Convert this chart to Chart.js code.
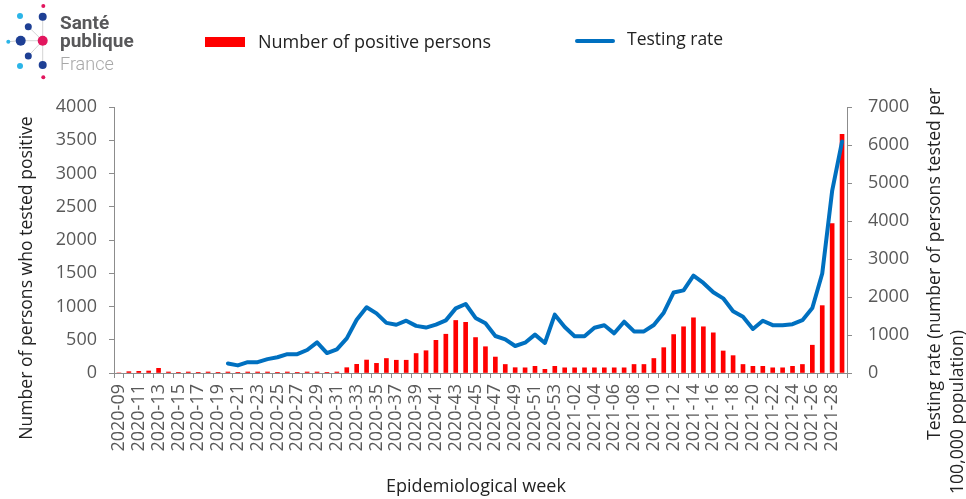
<!DOCTYPE html>
<html><head><meta charset="utf-8">
<script src="https://cdn.jsdelivr.net/npm/chart.js@4.4.1/dist/chart.umd.min.js"></script>
<style>
html,body{margin:0;padding:0;background:#fff;width:966px;height:499px;overflow:hidden}
#wrap{position:relative;width:966px;height:499px}
#c{position:absolute;left:0;top:0}
.t{position:absolute;white-space:nowrap;font-family:'Open Sans',sans-serif;color:#222;line-height:1}
#logo{position:absolute;left:0;top:0}
.lg{position:absolute;white-space:nowrap;font-family:Roboto,sans-serif;line-height:1}
</style></head><body>
<div id="wrap">
<canvas id="c" width="966" height="499"></canvas>
<svg id="logo" width="120" height="90" viewBox="0 0 120 90">
  <g stroke="#c8c8c8" stroke-width="0.8">
    <line x1="42.7" y1="40.7" x2="20.7" y2="40.7"/>
    <line x1="20.7" y1="40.7" x2="8.3" y2="41.7"/>
    <line x1="42.7" y1="40.7" x2="28.3" y2="26.7"/>
    <line x1="42.7" y1="40.7" x2="28.3" y2="56"/>
    <line x1="42.7" y1="40.7" x2="42.7" y2="16.7"/>
    <line x1="42.7" y1="40.7" x2="42.7" y2="65"/>
  </g>
  <circle cx="43.3" cy="6" r="2" fill="#e2165e"/>
  <circle cx="20" cy="16" r="3" fill="#2bb5e8"/>
  <circle cx="42.7" cy="16.7" r="4" fill="#1e3f94"/>
  <circle cx="28.3" cy="26.7" r="3.5" fill="#1e3f94"/>
  <circle cx="8.3" cy="41.7" r="2" fill="#2bb5e8"/>
  <circle cx="20.7" cy="40.7" r="5" fill="#1e3f94"/>
  <circle cx="42.7" cy="40.7" r="5" fill="#e2165e"/>
  <circle cx="28.3" cy="56" r="3.5" fill="#1e3f94"/>
  <circle cx="20" cy="66" r="3" fill="#2bb5e8"/>
  <circle cx="42.7" cy="65" r="4" fill="#1e3f94"/>
  <circle cx="43.3" cy="77.3" r="2" fill="#e2165e"/>
</svg>
<div class="lg" style="left:60px;top:13px;font-weight:700;font-size:19px;color:#58585a">Santé</div>
<div class="lg" style="left:60px;top:31px;font-weight:700;font-size:19px;color:#58585a">publique</div>
<div class="lg" style="left:60px;top:55px;font-weight:300;font-size:18px;color:#a8a8a8">France</div>

<div style="position:absolute;left:205px;top:37px;width:40px;height:10px;background:#ff0000"></div>
<div class="t" id="leg1" style="left:258px;top:32px;font-size:18px"></div>
<div style="position:absolute;left:575px;top:39px;width:40px;height:4px;background:#0070c0;border-radius:2px"></div>
<div class="t" id="leg2" style="left:627px;top:30px;font-size:17.5px"></div>
</div>
<script>
// ---- data ----
const weeks = [
 "2020-09","2020-10","2020-11","2020-12","2020-13","2020-14","2020-15","2020-16","2020-17","2020-18",
 "2020-19","2020-20","2020-21","2020-22","2020-23","2020-24","2020-25","2020-26","2020-27","2020-28",
 "2020-29","2020-30","2020-31","2020-32","2020-33","2020-34","2020-35","2020-36","2020-37","2020-38",
 "2020-39","2020-40","2020-41","2020-42","2020-43","2020-44","2020-45","2020-46","2020-47","2020-48",
 "2020-49","2020-50","2020-51","2020-52","2020-53",
 "2021-01","2021-02","2021-03","2021-04","2021-05","2021-06","2021-07","2021-08","2021-09","2021-10",
 "2021-11","2021-12","2021-13","2021-14","2021-15","2021-16","2021-17","2021-18","2021-19","2021-20",
 "2021-21","2021-22","2021-23","2021-24","2021-25","2021-26","2021-27","2021-28","2021-29"
];
const positives = [
 0,
 20,25,30,70,15,10,15,10,15,10,
 15,10,15,15,15,10,15,10,15,15,
 10,15,80,130,195,145,218,192,192,293,
 335,491,583,790,762,533,395,240,128,80,
 78,100,55,100,78,78,78,78,78,78,
 78,128,128,218,381,578,695,830,695,604,
 331,261,128,100,100,78,78,100,128,418,
 1013,2248,3590
];
const testingRate = [
 null,
 null,null,null,null,null,null,null,null,null,null,
 250,200,285,285,365,415,495,495,605,807,
 525,623,912,1400,1730,1570,1320,1270,1376,1240,
 1195,1275,1385,1700,1816,1450,1307,974,886,710,
 797,1010,790,1535,1210,965,965,1190,1255,1044,
 1350,1095,1095,1263,1587,2120,2175,2560,2370,2125,
 1965,1625,1482,1160,1376,1258,1258,1285,1390,1710,
 2620,4790,6090
];
const seriesNames = ["Number of positive persons","Testing rate"];
const leftTitle = "Number of persons who tested positive";
const rightTitle = ["Testing rate (number of persons tested per","100,000 population)"];
const xTitle = "Epidemiological week";

document.getElementById('leg1').textContent = seriesNames[0];
document.getElementById('leg2').textContent = seriesNames[1];

const AXIS = '#8c8c8c', TICK = '#595959', TXT = '#222';
const tickFont = {family:'Open Sans', size:18};

const titles = {
  id:'titles',
  afterDraw(chart){
    const ctx = chart.ctx;
    ctx.save();
    ctx.fillStyle = TXT;
    ctx.textBaseline = 'middle';
    ctx.font = '17.6px "Open Sans"';
    // left title
    ctx.save(); ctx.translate(27, 278); ctx.rotate(-Math.PI/2);
    ctx.textAlign = 'center'; ctx.fillText(leftTitle, 0, 0); ctx.restore();
    // right title
    ctx.save(); ctx.translate(935, 440); ctx.rotate(-Math.PI/2);
    ctx.textAlign = 'left'; ctx.fillText(rightTitle[0], 0, 0); ctx.restore();
    ctx.save(); ctx.translate(958, 494); ctx.rotate(-Math.PI/2);
    ctx.textAlign = 'left'; ctx.fillText(rightTitle[1], 0, 0); ctx.restore();
    // x title
    ctx.font = '18px "Open Sans"';
    ctx.textAlign = 'center';
    ctx.fillText(xTitle, 476, 487);
    ctx.restore();
  }
};

new Chart(document.getElementById('c').getContext('2d'), {
  type:'bar',
  data:{
    labels:weeks,
    datasets:[
      {type:'line', label:seriesNames[1], data:testingRate, yAxisID:'y1',
       borderColor:'#0070c0', borderWidth:4, pointRadius:0, tension:0,
       borderJoinStyle:'round', borderCapStyle:'round', spanGaps:false, order:0},
      {type:'bar', label:seriesNames[0], data:positives, yAxisID:'y',
       backgroundColor:'#ff0000', barThickness:4, order:1}
    ]
  },
  options:{
    responsive:false, animation:false,
    layout:{padding:{top:107,left:0,right:0,bottom:0}},
    plugins:{legend:{display:false}, tooltip:{enabled:false}},
    scales:{
      x:{
        grid:{offset:true, drawOnChartArea:false, tickLength:5, color:AXIS},
        border:{color:AXIS},
        ticks:{autoSkip:false, maxRotation:90, minRotation:90, padding:6, color:TICK, font:tickFont,
          callback:function(v,i){return i%2===0 ? this.getLabelForValue(v) : '';}},
        afterFit(s){s.height=126;}
      },
      y:{
        position:'left', min:0, max:4000,
        grid:{drawOnChartArea:false, tickLength:5, color:AXIS},
        border:{color:AXIS},
        ticks:{stepSize:500, padding:12, color:TICK, font:tickFont, format:{useGrouping:false}},
        afterFit(s){s.width=114;}
      },
      y1:{
        position:'right', min:0, max:7000,
        grid:{drawOnChartArea:false, tickLength:5, color:AXIS},
        border:{color:AXIS},
        ticks:{stepSize:1000, padding:16, color:TICK, font:tickFont, format:{useGrouping:false}},
        afterFit(s){s.width=119;}
      }
    }
  },
  plugins:[titles]
});
</script>
</body></html>
